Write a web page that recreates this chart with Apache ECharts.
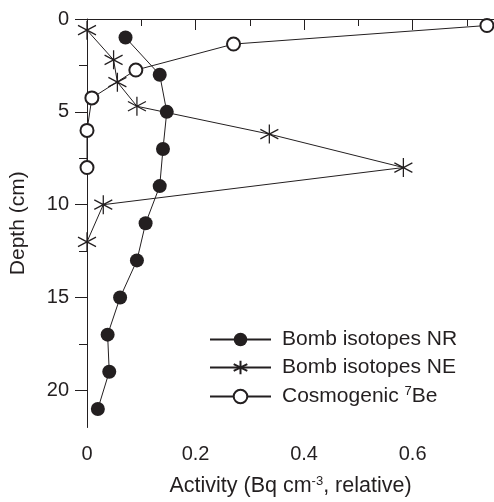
<!DOCTYPE html>
<html>
<head>
<meta charset="utf-8">
<script src="https://cdn.jsdelivr.net/npm/echarts@6/dist/echarts.min.js"></script>
<style>
  html, body { margin: 0; padding: 0; background: #fff; }
  #chart { width: 494px; height: 502px; }
</style>
</head>
<body>
<div id="chart"></div>
<script>
  // depth (cm) and relative activity
  var nrDepth = [1, 3, 5, 7, 9, 11, 13, 15, 17, 19, 21];
  var nrActivity = [0.071, 0.134, 0.147, 0.140, 0.134, 0.108, 0.092, 0.061, 0.038, 0.041, 0.020];

  var neDepth = [0.6, 2.2, 3.4, 4.7, 6.2, 8, 10, 12];
  var neActivity = [0, 0.049, 0.056, 0.092, 0.336, 0.583, 0.030, 0];

  var beDepth = [0.35, 1.35, 2.75, 4.25, 6, 8];
  var beActivity = [0.737, 0.27, 0.09, 0.009, 0, 0];

  var seriesNames = ['Bomb isotopes NR', 'Bomb isotopes NE', 'Cosmogenic 7Be'];

  var xTicks = [0, 0.2, 0.4, 0.6];
  var xMinorTicks = [0.1, 0.3, 0.5, 0.7];
  var yTicks = [0, 5, 10, 15, 20];
  var yMinorTicks = [2.5, 7.5, 12.5, 17.5];

  var ink = '#231f20';
  var font = 'Liberation Sans, Arial, sans-serif';
  var starPath = 'path://M10,0L10,20M1.34,5L18.66,15M1.34,15L18.66,5';

  function pairs(xs, ys) {
    return xs.map(function (x, i) { return [x, ys[i]]; });
  }

  var chart = echarts.init(document.getElementById('chart'));

  var option = {
    animation: false,
    grid: { left: 86, right: 0, top: 19, bottom: 74 },
    xAxis: [{
      type: 'value', min: 0, max: 0.75, interval: 0.2, position: 'bottom',
      axisLine: { show: true, lineStyle: { color: ink, width: 1 } },
      splitLine: { show: false },
      axisTick: { show: true, length: 11, customValues: xTicks, lineStyle: { color: ink } },
      axisLabel: { color: ink, fontSize: 20, fontFamily: font, margin: 17, customValues: xTicks },
      name: 'Activity (Bq cm{sup|-3}, relative)',
      nameLocation: 'middle',
      nameGap: 47,
      nameTextStyle: {
        color: ink, fontSize: 21.5, fontFamily: font,
        rich: { sup: { fontSize: 13, fontFamily: font, color: ink, padding: [0, 0, 10, 0] } }
      }
    }, {
      type: 'value', min: 0, max: 0.75, position: 'bottom',
      axisLine: { show: false }, splitLine: { show: false },
      axisLabel: { show: false },
      axisTick: { show: true, length: 7, customValues: xMinorTicks, lineStyle: { color: ink } }
    }],
    yAxis: [{
      type: 'value', min: 0, max: 22, interval: 5, inverse: true, position: 'left',
      axisLine: { show: true, lineStyle: { color: ink, width: 1 } },
      splitLine: { show: false },
      axisTick: { show: true, length: 12, customValues: yTicks, lineStyle: { color: ink } },
      axisLabel: { color: ink, fontSize: 20, fontFamily: font, margin: 18, customValues: yTicks },
      name: 'Depth (cm)',
      nameLocation: 'middle',
      nameGap: 58,
      nameTextStyle: { color: ink, fontSize: 21, fontFamily: font }
    }, {
      type: 'value', min: 0, max: 22, inverse: true, position: 'left',
      axisLine: { show: false }, splitLine: { show: false },
      axisLabel: { show: false },
      axisTick: { show: true, length: 8, customValues: yMinorTicks, lineStyle: { color: ink } }
    }],
    legend: {
      orient: 'vertical',
      left: 204,
      top: 324,
      itemWidth: 61,
      itemHeight: 17,
      itemGap: 7,
      data: seriesNames,
      formatter: function (name) {
        return name === 'Cosmogenic 7Be' ? 'Cosmogenic {sup|7}Be' : name;
      },
      textStyle: {
        color: ink, fontSize: 21, fontFamily: font, padding: [0, 0, 0, 6],
        rich: { sup: { fontSize: 13, fontFamily: font, color: ink, padding: [0, 0, 10, 0] } }
      }
    },
    series: [{
      name: seriesNames[0],
      type: 'line',
      xAxisIndex: 0, yAxisIndex: 0,
      data: pairs(nrActivity, nrDepth),
      symbol: 'circle',
      symbolSize: 14,
      clip: false,
      lineStyle: { color: ink, width: 1 },
      itemStyle: { color: ink, borderColor: ink, borderWidth: 0 },
      emphasis: { disabled: true },
      z: 3
    }, {
      name: seriesNames[1],
      type: 'line',
      xAxisIndex: 0, yAxisIndex: 0,
      data: pairs(neActivity, neDepth),
      symbol: starPath,
      symbolSize: [18, 19],
      clip: false,
      lineStyle: { color: ink, width: 1 },
      itemStyle: { color: 'none', borderColor: ink, borderWidth: 1.3 },
      emphasis: { disabled: true },
      z: 4
    }, {
      name: seriesNames[2],
      type: 'line',
      xAxisIndex: 0, yAxisIndex: 0,
      data: pairs(beActivity, beDepth),
      symbol: 'emptyCircle',
      symbolSize: 13,
      clip: false,
      lineStyle: { color: ink, width: 1 },
      itemStyle: { color: ink, borderWidth: 1 },
      emphasis: { disabled: true },
      z: 5
    }]
  };

  chart.setOption(option);
  window.addEventListener('resize', function () {
    chart.resize();
  });
</script>
</body>
</html>
